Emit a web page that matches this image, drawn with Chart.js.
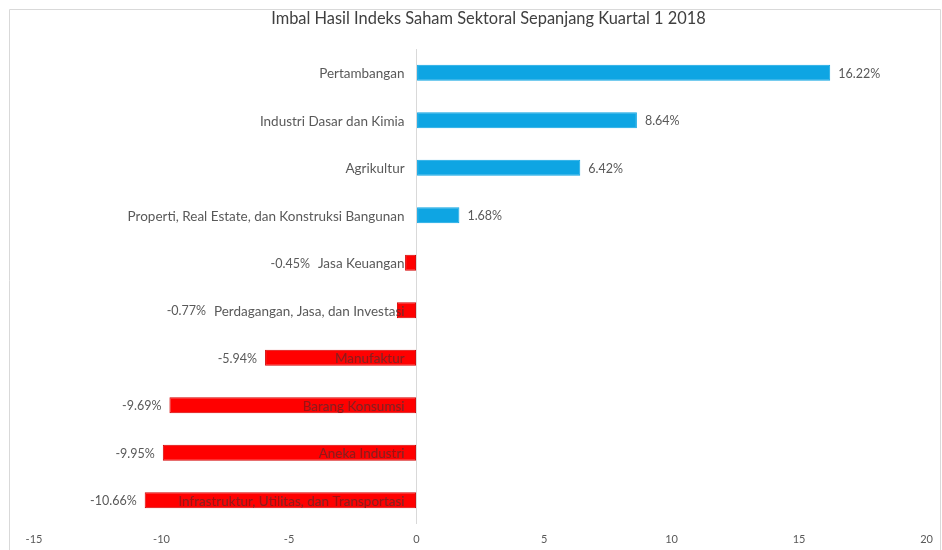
<!DOCTYPE html>
<html>
<head>
<meta charset="utf-8">
<script src="https://cdn.jsdelivr.net/npm/chart.js@4"></script>
<style>
html,body{margin:0;padding:0;background:#fff;}
#wrap{position:relative;width:942px;height:550px;}
</style>
</head>
<body>
<div id="wrap"><canvas id="c" width="942" height="550"></canvas></div>
<script>
const titleText = 'Imbal Hasil Indeks Saham Sektoral Sepanjang Kuartal 1 2018';
const categories = [
  'Pertambangan',
  'Industri Dasar dan Kimia',
  'Agrikultur',
  'Properti, Real Estate, dan Konstruksi Bangunan',
  'Jasa Keuangan',
  'Perdagangan, Jasa, dan Investasi',
  'Manufaktur',
  'Barang Konsumsi',
  'Aneka Industri',
  'Infrastruktur, Utilitas, dan Transportasi'
];
const returns = [16.22, 8.64, 6.42, 1.68, -0.45, -0.77, -5.94, -9.69, -9.95, -10.66];
const xTicks = [-15, -10, -5, 0, 5, 10, 15, 20];

const FONT = 'Lato, "Open Sans", sans-serif';
const mctx = document.createElement('canvas').getContext('2d');
function fitSize(text, target) {
  mctx.font = '100px ' + FONT;
  return 100 * target / mctx.measureText(text).width;
}
const catSize = fitSize('Properti, Real Estate, dan Konstruksi Bangunan', 277);
const valSize = fitSize('16.22%', 42);
const titleSize = fitSize(titleText, 435);

const labelPlugin = {
  id: 'labels',
  beforeDraw(chart) {
    const ctx = chart.ctx;
    ctx.save();
    ctx.strokeStyle = '#d9d9d9';
    ctx.lineWidth = 1;
    ctx.beginPath();
    ctx.moveTo(9.5, 560); ctx.lineTo(9.5, 9.5); ctx.lineTo(940.5, 9.5); ctx.lineTo(940.5, 560);
    ctx.stroke();
    ctx.fillStyle = '#404040';
    ctx.font = titleSize.toFixed(2) + 'px ' + FONT;
    ctx.textAlign = 'center';
    ctx.textBaseline = 'middle';
    ctx.fillText(titleText, 488.5, 19);
    ctx.restore();
  },
  afterDraw(chart) {
    const ctx = chart.ctx;
    const xs = chart.scales.x;
    const meta = chart.getDatasetMeta(0);
    const x0 = xs.getPixelForValue(0);
    ctx.save();
    ctx.textBaseline = 'middle';
    meta.data.forEach((bar, i) => {
      const v = returns[i];
      const y = bar.y;
      ctx.font = catSize.toFixed(2) + 'px ' + FONT;
      ctx.textAlign = 'right';
      const catRight = x0 - 12;
      const catW = ctx.measureText(categories[i]).width;
      ctx.fillStyle = '#595959';
      ctx.fillText(categories[i], catRight, y + 1);
      if (v < 0) {
        ctx.save();
        ctx.beginPath();
        ctx.rect(bar.x, y - bar.height / 2, x0 - bar.x, bar.height);
        ctx.clip();
        ctx.fillStyle = '#a50d0d';
        ctx.fillText(categories[i], catRight, y + 1);
        ctx.restore();
      }
      ctx.font = valSize.toFixed(2) + 'px ' + FONT;
      ctx.fillStyle = '#595959';
      const txt = v.toFixed(2) + '%';
      if (v >= 0) {
        ctx.textAlign = 'left';
        ctx.fillText(txt, bar.x + 8, y + 1);
      } else {
        ctx.textAlign = 'right';
        const edge = Math.min(bar.x, catRight - catW);
        ctx.fillText(txt, edge - 8, y + 1);
      }
    });
    ctx.restore();
  }
};

new Chart(document.getElementById('c'), {
  type: 'bar',
  data: {
    labels: categories,
    datasets: [{
      data: returns,
      backgroundColor: returns.map(v => v >= 0 ? '#0ea5e3' : '#ff0000'),
      borderColor: returns.map(v => v >= 0 ? '#0ea5e3' : '#d40000'),
      borderWidth: 1,
      borderSkipped: false,
      barPercentage: 0.34,
      categoryPercentage: 1
    }]
  },
  options: {
    indexAxis: 'y',
    responsive: false,
    animation: false,
    devicePixelRatio: 1,
    layout: { padding: { left: 34, right: 12, top: 49, bottom: 0 } },
    plugins: {
      legend: { display: false },
      tooltip: { enabled: false },
      title: { display: false }
    },
    scales: {
      x: {
        type: 'linear',
        min: -15, max: 20,
        afterBuildTicks: (s) => { s.ticks = xTicks.map(v => ({ value: v })); },
        afterFit: (s) => { s.height = 26; },
        ticks: {
          color: '#595959',
          font: { family: FONT, size: 11 },
          padding: 9,
          maxRotation: 0,
          callback: (v) => String(v)
        },
        grid: {
          drawTicks: false,
          color: (c) => (c.tick && c.tick.value === 0) ? '#d9d9d9' : 'rgba(0,0,0,0)',
          lineWidth: 1
        },
        border: { display: false }
      },
      y: {
        display: false,
        offset: true
      }
    }
  },
  plugins: [labelPlugin]
});
</script>
</body>
</html>
